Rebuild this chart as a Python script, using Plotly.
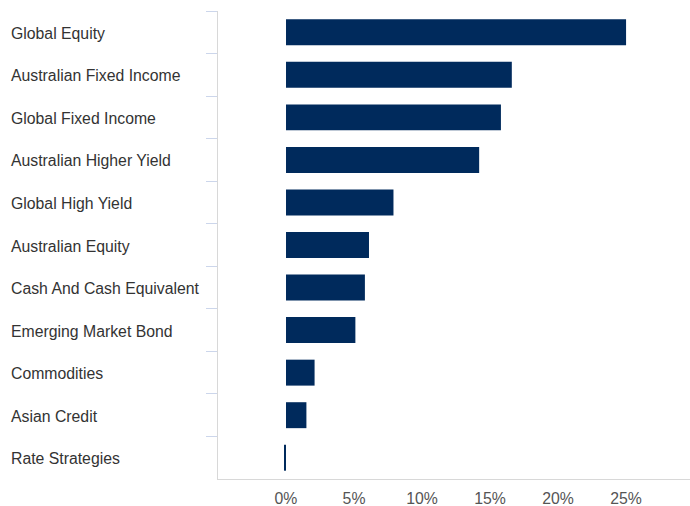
import plotly.graph_objects as go

# Asset allocation by sector (% of portfolio)
categories = [
    "Global Equity",
    "Australian Fixed Income",
    "Global Fixed Income",
    "Australian Higher Yield",
    "Global High Yield",
    "Australian Equity",
    "Cash And Cash Equivalent",
    "Emerging Market Bond",
    "Commodities",
    "Asian Credit",
    "Rate Strategies",
]
weights = [25.0, 16.6, 15.8, 14.2, 7.9, 6.1, 5.8, 5.1, 2.1, 1.5, -0.15]

tick_values = [0, 5, 10, 15, 20, 25]
tick_labels = ["0%", "5%", "10%", "15%", "20%", "25%"]

FONT = "Liberation Sans, Arial, sans-serif"
W, H = 690, 506
M_L, M_R, M_T, M_B = 218, 0, 11, 27

fig = go.Figure(
    go.Bar(
        x=weights,
        y=categories,
        orientation="h",
        marker=dict(color="#002a5c", line=dict(width=0)),
        hoverinfo="x+y",
    )
)

# Category names drawn left-aligned at the far left of the figure
plot_w = W - M_L - M_R
for name in categories:
    fig.add_annotation(
        x=(9 - M_L) / plot_w,
        xref="paper",
        y=name,
        yref="y",
        text=name,
        showarrow=False,
        xanchor="left",
        yanchor="middle",
        yshift=-1,
        font=dict(family=FONT, size=15.8, color="#333333"),
    )

fig.update_layout(
    width=W,
    height=H,
    margin=dict(l=M_L, r=M_R, t=M_T, b=M_B, pad=0),
    paper_bgcolor="white",
    plot_bgcolor="white",
    bargap=0.39,
    showlegend=False,
    font=dict(family=FONT, size=15.8, color="#555555"),
    xaxis=dict(
        range=[-5, 29.7],
        tickvals=tick_values,
        ticktext=tick_labels,
        showgrid=False,
        zeroline=False,
        showline=True,
        linecolor="#d8d8d8",
        linewidth=1,
        ticks="",
        tickfont=dict(family=FONT, size=15.8, color="#555555"),
        ticklabelstandoff=5,
    ),
    yaxis=dict(
        categoryorder="array",
        categoryarray=categories,
        autorange="reversed",
        showgrid=False,
        zeroline=False,
        showline=True,
        linecolor="#d8d8d8",
        linewidth=1,
        ticks="outside",
        tickson="boundaries",
        ticklen=11,
        tickcolor="#ccd6eb",
        tickwidth=1,
        showticklabels=False,
    ),
)

fig.write_html("out.html")
